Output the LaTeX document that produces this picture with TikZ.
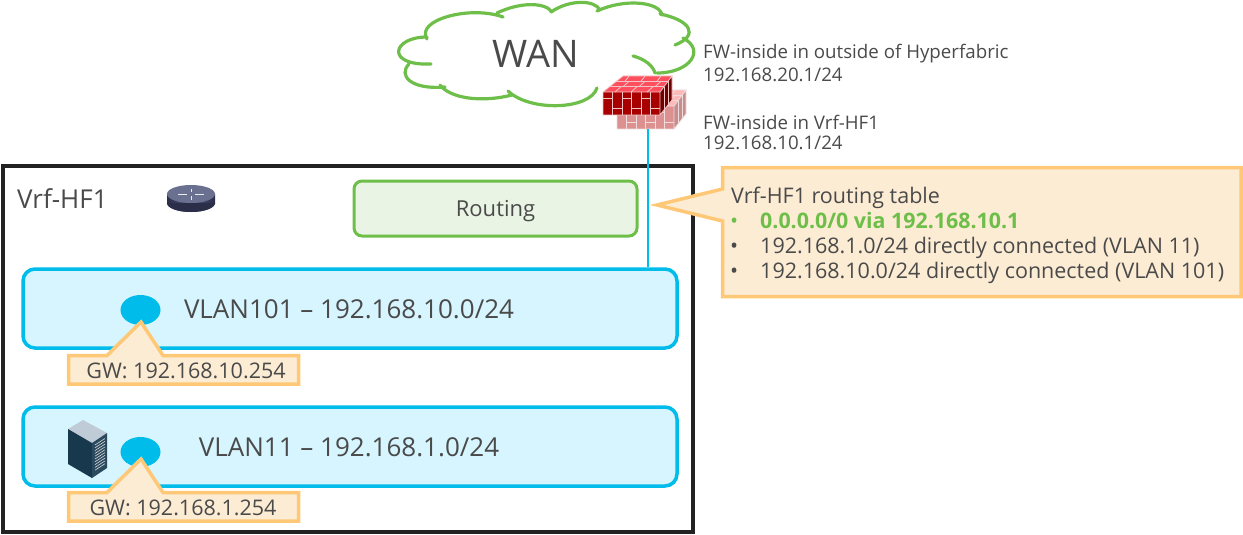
\documentclass[tikz,border=0pt]{standalone}
\usepackage{fontspec}
\setmainfont{Open Sans}
\usepackage{xcolor}
\usetikzlibrary{shapes.geometric}
\definecolor{txtgray}{HTML}{4A4A4A}
\definecolor{cloudgreen}{HTML}{6EBE4A}
\definecolor{routefill}{HTML}{E9F4E4}
\definecolor{vlanblue}{HTML}{00BCEB}
\definecolor{vlanfill}{HTML}{D6F5FE}
\definecolor{noteline}{HTML}{FEC876}
\definecolor{notefill}{HTML}{FDECD4}
\definecolor{framegray}{HTML}{222222}
\definecolor{fwfront}{HTML}{A80000}
\definecolor{fwtop}{HTML}{FF4F5E}
\definecolor{fwside}{HTML}{6E0000}
\definecolor{fwmortar}{HTML}{F2C6C6}
\definecolor{fwbfront}{HTML}{DD9090}
\definecolor{fwbtop}{HTML}{FFB9B9}
\definecolor{fwbside}{HTML}{C78E8E}
\definecolor{fwbmortar}{HTML}{F0DCDC}
\definecolor{srvtop}{HTML}{BFCCD8}
\definecolor{srvleft}{HTML}{17384D}
\definecolor{srvright}{HTML}{2A4A5E}
\definecolor{rtbody}{HTML}{2B2E48}
\definecolor{rtmid}{HTML}{50557A}
\definecolor{rttop}{HTML}{6A7090}

\tikzset{
  lbl/.style={inner sep=0pt,text=txtgray,font=\fontsize{#1}{#1}\selectfont},
  lbl/.default=21.5,
  vlanbox/.style={draw=vlanblue,fill=vlanfill,line width=3.5pt,rounded corners=12pt,minimum width=654pt,minimum height=79pt,inner sep=0pt},
  gwdot/.style={ellipse,fill=vlanblue,minimum width=40pt,minimum height=30pt,inner sep=0pt},
  note/.style={draw=noteline,fill=notefill,line width=3.5pt,line join=miter},
  cloudline/.style={draw=cloudgreen,line width=3.2pt,line cap=round}
}

% x y front top side mortar
\newcommand{\fwall}[6]{
  \begin{scope}[shift={(#1,#2)}]
    \fill[#3] (0,0) rectangle (57,23);
    \fill[#4] (0,0) -- (20,-16) -- (69,-16) -- (57,0) -- cycle;
    \fill[#5] (57,0) -- (69,-16) -- (69,8) -- (57,23) -- cycle;
    \draw[#6,line width=0.8pt] (0,0) rectangle (57,23) (0,0) -- (20,-16) -- (69,-16) -- (57,0) (69,-16) -- (69,8) -- (57,23);
    \foreach \i in {9.5,19,28.5,38,47.5} {
      \draw[#6,line width=0.8pt] (\i,0) -- (\i,23);
    }
    \foreach \i in {0,19,38} {
      \draw[#6,line width=0.8pt] (\i,6) -- (\i+9.5,6) (\i+9.5,16) -- (\i+19,16);
    }
    \draw[#6,line width=0.8pt] (6.7,-5.3) -- (61,-5.3) (13.3,-10.7) -- (65,-10.7);
    \foreach \i in {12,28,44} {
      \draw[#6,line width=0.8pt] (\i,0) -- (\i+6,-5.3) (\i+10,-10.7) -- (\i+14,-16);
    }
    \foreach \i in {20,36,52} {
      \draw[#6,line width=0.8pt] (\i,-5.3) -- (\i+6,-10.7);
    }
    \draw[#6,line width=0.8pt] (61,-5.3) -- (61,18) (65,-10.7) -- (65,13);
  \end{scope}
}

\begin{document}
\begin{tikzpicture}[x=1pt,y=-1pt]
  \useasboundingbox (0,0) rectangle (1243,535);

  % cloud
  \draw[cloudline] (431,64) .. controls (385,66) and (392,37) .. (427,37);
  \draw[cloudline] (427,39) .. controls (415,20) and (470,5) .. (503,17);
  \draw[cloudline] (497,13) .. controls (520,2) and (545,2) .. (552,12);
  \draw[cloudline] (551,12) .. controls (570,-1) and (595,0) .. (600,10);
  \draw[cloudline] (597,11) .. controls (625,-2) and (660,2) .. (662,15);
  \draw[cloudline] (660,14) .. controls (690,20) and (700,35) .. (675,45);
  \draw[cloudline] (683,38) .. controls (706,50) and (690,73) .. (657,73);
  \draw[cloudline] (633,56) .. controls (645,59) and (653,66) .. (655,73);
  \draw[cloudline] (597,88) .. controls (590,110) and (530,112) .. (508,91);
  \draw[cloudline] (512,95) .. controls (480,103) and (450,98) .. (440,85);
  \draw[cloudline] (445,87) .. controls (410,90) and (398,75) .. (409,64);
  \node (wan) at (536,54) [lbl=38] {WAN};

  % firewalls
  \fwall{617}{106}{fwbfront}{fwbtop}{fwbside}{fwbmortar}
  \fwall{603}{92}{fwfront}{fwtop}{fwside}{fwmortar}
  \coordinate (fwport) at (648,129);

  \node (fwout) at (703,54) [lbl=18.7,anchor=west] {FW-inside in outside of Hyperfabric};
  \node (fwoutip) at (703,75) [lbl=18.7,anchor=west] {192.168.20.1/24};
  \node (fwin) at (703,122) [lbl=18.7,anchor=west] {FW-inside in Vrf-HF1};
  \node (fwinip) at (703,143) [lbl=18.7,anchor=west] {192.168.10.1/24};

  % vrf frame
  \node (vrf) at (348,349) [draw=framegray,line width=4pt,minimum width=690pt,minimum height=366pt,inner sep=0pt] {};
  \node (vrfname) at (17,199) [lbl=26,anchor=west] {Vrf-HF1};

  % router
  \fill[rtbody] (191,203) ellipse [x radius=24,y radius=9];
  \shade[left color=rtbody,right color=rtbody,middle color=rtmid] (167,194) rectangle (215,203);
  \fill[rtbody] (167,203) arc[start angle=180,end angle=0,x radius=24,y radius=9] -- (215,203) -- cycle;
  \fill[rttop] (191,194) ellipse [x radius=24,y radius=9];
  \draw[white!85!gray,line width=1pt] (178,194) -- (187,194) (195,194) -- (204,194) (191,188.5) -- (191,192) (191,196) -- (191,199.5);
  \node (router) at (191,198.5) [inner sep=0pt,minimum width=48pt,minimum height=27pt] {};

  \node (routing) at (495.5,208.5) [lbl=22,draw=cloudgreen,fill=routefill,line width=3pt,rounded corners=8pt,minimum width=283pt,minimum height=55pt,text height=16pt,text depth=1pt] {Routing};

  % vlans
  \node (vlan101) at (350,308.5) [vlanbox] {};
  \node (vlan11) at (350,446.5) [vlanbox] {};
  \node (vlan101txt) at (349,309) [lbl=26] {VLAN101 -- 192.168.10.0/24};
  \node (vlan11txt) at (349,447) [lbl=26] {VLAN11 -- 192.168.1.0/24};
  \node (gw101) at (140.5,310) [gwdot] {};
  \node (gw11) at (140.5,452) [gwdot] {};

  \draw[vlanblue,line width=1.6pt] (fwport) -- (fwport |- vlan101.north);

  % server
  \fill[srvtop] (68,429) -- (83,420) -- (107,433) -- (92,443) -- cycle;
  \fill[srvleft] (68,429) -- (92,443) -- (92,478) -- (68,464) -- cycle;
  \fill[srvright] (92,443) -- (107,433) -- (107,468) -- (92,478) -- cycle;
  \foreach \i in {0,...,9} {
    \draw[white!70!gray,line width=0.6pt] (95,445+\i*2.8) -- (105,438.5+\i*2.8);
  }
  \node (server) at (87,449) [inner sep=0pt,minimum width=39pt,minimum height=58pt] {};

  % gateway notes
  \draw[note] (68.5,355.5) -- (107,355.5) -- (141,322) -- (163,355.5) -- (298.5,355.5) -- (298.5,384) -- (68.5,384) -- cycle;
  \node (gw101txt) at (186,371) [lbl] {GW: 192.168.10.254};
  \draw[note] (68.5,492.5) -- (107,492.5) -- (141,459) -- (163,492.5) -- (298.5,492.5) -- (298.5,521) -- (68.5,521) -- cycle;
  \node (gw11txt) at (183,508) [lbl] {GW: 192.168.1.254};

  % routing table
  \draw[note] (722.5,167.5) -- (1241,167.5) -- (1241,296.5) -- (722.5,296.5) -- (722.5,221) -- (657,205) -- (722.5,189) -- cycle;
  \node (rttitle) at (731,203) [lbl,anchor=base west] {Vrf-HF1 routing table};
  \node (bula) at (730,228) [lbl,anchor=base west,text=cloudgreen] {•};
  \node (rta) at (760,228) [lbl,anchor=base west,text=cloudgreen,font=\fontsize{21.4}{21.4}\selectfont\bfseries] {0.0.0.0/0 via 192.168.10.1};
  \node (bulb) at (730,253) [lbl,anchor=base west] {•};
  \node (rtb) at (760,253) [lbl,anchor=base west] {192.168.1.0/24 directly connected (VLAN 11)};
  \node (bulc) at (730,278) [lbl,anchor=base west] {•};
  \node (rtc) at (760,278) [lbl,anchor=base west] {192.168.10.0/24 directly connected (VLAN 101)};
\end{tikzpicture}
\end{document}
